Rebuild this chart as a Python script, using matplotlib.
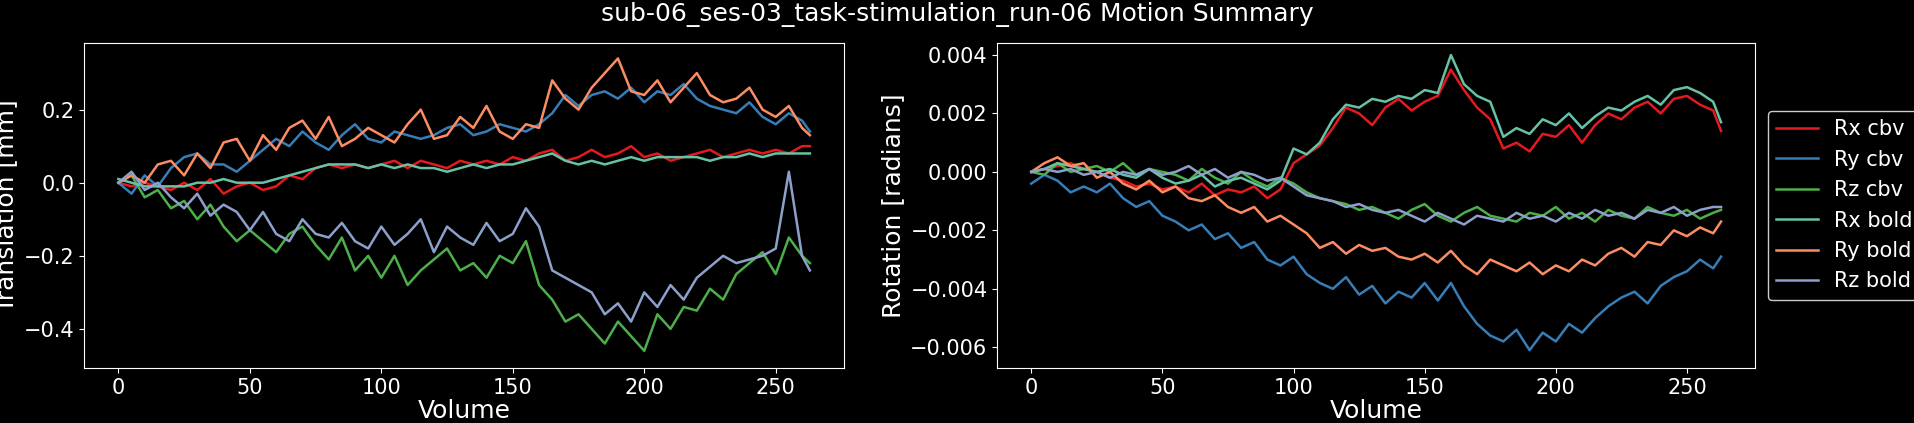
import matplotlib
matplotlib.use("Agg")
import matplotlib.pyplot as plt

volume = list(range(0, 261, 5)) + [263]

tx_cbv = [0,-0.01,0.0,-0.01,-0.02,0.0,-0.02,0.01,-0.03,-0.01,
          0.0,-0.02,-0.01,0.02,0.01,0.04,0.05,0.04,0.05,0.04,
          0.05,0.06,0.04,0.06,0.05,0.04,0.06,0.05,0.06,0.05,
          0.07,0.06,0.08,0.09,0.06,0.07,0.09,0.07,0.08,0.10,
          0.07,0.08,0.06,0.07,0.08,0.09,0.07,0.08,0.09,0.08,
          0.09,0.08,0.10,0.10]
ty_cbv = [0.0,-0.03,0.02,-0.01,0.04,0.07,0.08,0.05,0.05,0.03,
          0.06,0.09,0.12,0.10,0.14,0.11,0.09,0.13,0.16,0.12,
          0.11,0.14,0.13,0.12,0.13,0.15,0.16,0.13,0.14,0.16,
          0.15,0.14,0.16,0.19,0.24,0.21,0.24,0.25,0.23,0.26,
          0.22,0.25,0.24,0.27,0.23,0.21,0.20,0.19,0.22,0.18,
          0.16,0.19,0.17,0.14]
tz_cbv = [0.0,0.02,-0.04,-0.02,-0.07,-0.05,-0.10,-0.06,-0.12,-0.16,
          -0.13,-0.16,-0.19,-0.14,-0.12,-0.17,-0.21,-0.15,-0.24,-0.20,
          -0.26,-0.20,-0.28,-0.24,-0.21,-0.18,-0.24,-0.22,-0.26,-0.20,
          -0.22,-0.16,-0.28,-0.32,-0.38,-0.36,-0.40,-0.44,-0.38,-0.42,
          -0.46,-0.36,-0.40,-0.34,-0.35,-0.29,-0.32,-0.25,-0.22,-0.19,
          -0.25,-0.15,-0.20,-0.22]
tx_bold = [0.01,0.0,-0.01,-0.01,-0.01,-0.01,0.0,0.0,0.01,0.0,
           0.0,0.0,0.01,0.02,0.03,0.04,0.05,0.05,0.05,0.04,
           0.05,0.04,0.05,0.04,0.04,0.03,0.04,0.05,0.04,0.05,
           0.05,0.06,0.07,0.08,0.06,0.05,0.06,0.05,0.06,0.07,
           0.06,0.07,0.07,0.07,0.07,0.06,0.07,0.07,0.08,0.07,
           0.08,0.08,0.08,0.08]
ty_bold = [0.0,0.02,0.0,0.05,0.06,0.02,0.08,0.04,0.11,0.12,
           0.06,0.13,0.09,0.15,0.17,0.12,0.18,0.10,0.12,0.15,
           0.13,0.11,0.16,0.20,0.12,0.13,0.18,0.15,0.21,0.14,
           0.12,0.16,0.15,0.28,0.23,0.20,0.26,0.30,0.34,0.25,
           0.24,0.28,0.22,0.26,0.30,0.24,0.22,0.23,0.26,0.20,
           0.18,0.21,0.15,0.13]
tz_bold = [0.0,0.03,-0.02,0.0,-0.04,-0.07,-0.03,-0.09,-0.06,-0.08,
           -0.13,-0.08,-0.14,-0.16,-0.10,-0.14,-0.15,-0.11,-0.16,-0.18,
           -0.12,-0.17,-0.14,-0.10,-0.19,-0.12,-0.15,-0.17,-0.11,-0.16,
           -0.14,-0.07,-0.12,-0.24,-0.26,-0.28,-0.30,-0.36,-0.33,-0.38,
           -0.30,-0.34,-0.28,-0.32,-0.26,-0.23,-0.20,-0.22,-0.21,-0.20,
           -0.18,0.03,-0.20,-0.24]

# rotations in milliradians
rx_cbv = [0.0,0.1,0.2,0.3,0.1,0.0,-0.2,-0.3,-0.5,-0.4,
          -0.6,-0.5,-0.7,-0.4,-0.8,-0.6,-0.7,-0.5,-0.9,-0.6,
          0.3,0.6,0.9,1.5,2.2,2.0,1.6,2.2,2.5,2.1,
          2.4,2.6,3.5,2.8,2.2,1.8,0.8,1.0,0.7,1.3,
          1.2,1.6,1.0,1.6,2.0,1.8,2.2,2.4,2.0,2.5,
          2.6,2.3,2.1,1.4]
ry_cbv = [-0.4,-0.1,-0.3,-0.7,-0.5,-0.7,-0.4,-0.9,-1.2,-1.0,
          -1.5,-1.7,-2.0,-1.8,-2.3,-2.1,-2.6,-2.4,-3.0,-3.2,
          -2.9,-3.5,-3.8,-4.0,-3.6,-4.2,-3.9,-4.5,-4.1,-4.3,
          -3.8,-4.4,-3.8,-4.6,-5.2,-5.6,-5.8,-5.4,-6.1,-5.5,
          -5.8,-5.2,-5.5,-5.0,-4.6,-4.3,-4.1,-4.5,-3.9,-3.6,
          -3.4,-3.0,-3.3,-2.9]
rz_cbv = [0.0,-0.1,0.3,0.0,0.1,0.2,0.0,0.3,-0.1,0.1,
          0.0,-0.1,-0.3,0.1,-0.2,-0.4,0.0,-0.3,-0.5,-0.2,
          -0.4,-0.7,-0.9,-1.0,-1.1,-1.3,-1.2,-1.4,-1.6,-1.3,
          -1.1,-1.5,-1.7,-1.4,-1.2,-1.5,-1.6,-1.7,-1.4,-1.5,
          -1.2,-1.6,-1.4,-1.7,-1.3,-1.5,-1.6,-1.2,-1.4,-1.5,
          -1.3,-1.6,-1.4,-1.3]
rx_bold = [0.0,0.1,0.3,0.2,0.1,0.0,0.1,-0.1,-0.2,0.1,
           -0.2,-0.4,-0.3,-0.1,-0.5,-0.3,-0.2,-0.4,-0.6,-0.3,
           0.8,0.6,1.0,1.8,2.3,2.2,2.5,2.4,2.6,2.5,
           2.8,2.7,4.0,3.0,2.6,2.4,1.2,1.5,1.3,1.8,
           1.6,2.0,1.5,1.9,2.2,2.1,2.4,2.6,2.3,2.8,
           2.9,2.7,2.4,1.7]
ry_bold = [0.0,0.3,0.5,0.2,0.3,-0.2,0.0,-0.4,-0.6,-0.3,
           -0.7,-0.5,-0.9,-1.0,-0.8,-1.2,-1.4,-1.2,-1.7,-1.5,
           -1.8,-2.1,-2.6,-2.4,-2.8,-2.5,-2.7,-2.6,-2.9,-3.0,
           -2.8,-3.1,-2.7,-3.2,-3.5,-3.0,-3.2,-3.4,-3.1,-3.5,
           -3.2,-3.4,-3.0,-3.2,-2.8,-2.6,-2.9,-2.4,-2.5,-2.0,
           -2.2,-1.9,-2.1,-1.7]
rz_bold = [0.0,0.1,0.0,0.1,-0.1,0.0,-0.2,0.0,-0.1,0.1,
           -0.1,0.0,0.2,-0.1,0.1,-0.2,0.0,-0.1,-0.3,-0.2,
           -0.5,-0.8,-0.9,-1.0,-1.2,-1.1,-1.3,-1.4,-1.3,-1.5,
           -1.7,-1.4,-1.6,-1.8,-1.5,-1.6,-1.7,-1.4,-1.6,-1.5,
           -1.7,-1.4,-1.6,-1.3,-1.5,-1.4,-1.6,-1.3,-1.4,-1.2,
           -1.5,-1.3,-1.2,-1.2]

labels = ["Rx cbv", "Ry cbv", "Rz cbv", "Rx bold", "Ry bold", "Rz bold"]
colors = ["#e41a1c", "#377eb8", "#4daf4a", "#66c2a5", "#fc8d62", "#8da0cb"]

plt.style.use("dark_background")
fig = plt.figure(figsize=(19.14, 4.23), dpi=100)
ax1 = fig.add_axes([0.044, 0.130, 0.397, 0.769])
ax2 = fig.add_axes([0.521, 0.130, 0.396, 0.769])

for s, c in zip([tx_cbv, ty_cbv, tz_cbv, tx_bold, ty_bold, tz_bold], colors):
    ax1.plot(volume, s, color=c, lw=1.8)
for s, c, l in zip([rx_cbv, ry_cbv, rz_cbv, rx_bold, ry_bold, rz_bold], colors, labels):
    ax2.plot(volume, [v / 1000 for v in s], color=c, lw=1.8, label=l)

ax1.set_xlim(-13, 276)
ax1.set_ylim(-0.507, 0.383)
ax1.set_yticks([-0.4, -0.2, 0.0, 0.2])
ax2.set_xlim(-13, 276)
ax2.set_ylim(-0.00671, 0.00442)
ax2.set_yticks([-0.006, -0.004, -0.002, 0.0, 0.002, 0.004])

for ax in (ax1, ax2):
    ax.set_xticks([0, 50, 100, 150, 200, 250])
    ax.tick_params(labelsize=15)
    ax.set_xlabel("Volume", fontsize=18, labelpad=1)
ax1.set_ylabel("Translation [mm]", fontsize=18)
ax2.set_ylabel("Rotation [radians]", fontsize=18)

ax2.legend(loc="center left", bbox_to_anchor=(1.003, 0.5), fontsize=15,
           frameon=True, edgecolor="white", facecolor="black")
fig.suptitle("sub-06_ses-03_task-stimulation_run-06 Motion Summary",
             fontsize=18, x=0.5, y=0.995)
fig.savefig("out.png", dpi=100, facecolor="black")
